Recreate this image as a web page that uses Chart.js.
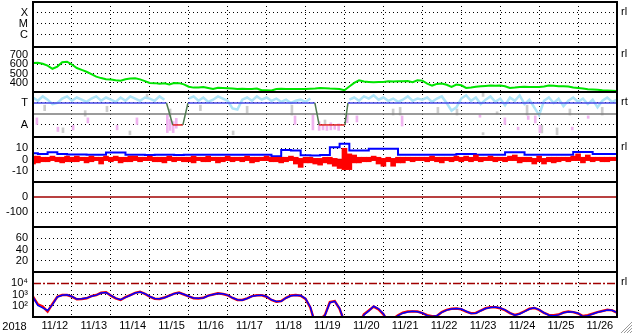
<!DOCTYPE html>
<html><head><meta charset="utf-8">
<script src="https://cdn.jsdelivr.net/npm/chart.js@4"></script>
<style>html,body{margin:0;padding:0;background:#fff;overflow:hidden}canvas{display:block}</style>
</head><body>
<canvas id="c" width="633" height="334"></canvas>
<script>
// ---------------- DATA ----------------
const dayLabels = ['11/12','11/13','11/14','11/15','11/16','11/17','11/18','11/19','11/20','11/21','11/22','11/23','11/24','11/25','11/26'];
const yearLabel = '2018';
const sampleStep = 0.125;      // 3-hour samples (days)
const coarseStep = 0.25;       // 6-hour samples (days)
const labelAt = 0.56;          // day fraction where each date label sits

// panel 1 (X/M/C) category rows
const p1Rows = ['C','M','X'];
// panel 2 green
const green = [
 614,617,605,585,552,575,622,628,
 597,560,540,520,495,468,452,440,
 436,428,424,440,447,450,438,420,
 400,398,392,396,384,400,398,385,
 360,350,352,357,346,336,348,346,
 343,340,336,338,336,336,340,322,
 322,320,336,338,336,334,336,336,
 336,338,340,346,344,340,338,336,
 322,362,400,428,415,411,408,411,
 411,418,416,418,418,420,407,428,
 425,393,372,390,393,380,357,382,
 375,346,352,360,364,368,372,370,
 372,365,346,350,357,360,357,357,
 357,362,372,370,364,364,362,352,
 346,340,332,329,326,321,318,316,
 314];
const p2Ticks = [400,500,600,700];

// panel 3 (T / A)
const p3Rows = ['A', null, 'T'];
const cyan = [
 2.5,2.2,2.6,2.3,1.9,2.0,2.4,2.6,
 2.2,2.5,2.3,2.1,2.4,2.6,2.2,2.5,
 2.3,2.1,2.5,2.2,2.6,2.4,2.2,2.5,
 2.4,2.2,2.6,2.3,null,null,null,null,
 2.4,2.6,2.2,2.5,2.1,2.3,2.6,2.4,
 2.2,1.5,1.4,2.3,2.5,2.2,2.6,2.3,
 2.5,2.2,2.4,2.1,2.3,2.0,2.2,2.3,
 2.1,2.4,null,null,null,null,null,null,
 null,2.3,2.5,2.2,2.6,2.4,2.7,2.3,
 2.5,2.2,2.4,2.1,2.3,2.6,2.2,2.4,
 2.3,2.5,2.1,2.4,2.6,2.0,1.3,1.6,
 2.4,2.7,2.2,2.5,1.9,2.3,2.6,2.1,
 2.4,1.8,2.5,2.2,2.7,1.9,2.3,1.6,
 0.9,2.2,2.5,2.0,2.4,1.7,2.2,2.5,
 2.1,2.4,1.9,2.3,1.6,2.2,2.5,2.1,
 2.3];
const stateT = [0, 3.43, 3.59, 3.85, 3.98, 7.24, 7.35, 8.01, 8.09, 15];
const stateV = [2, 2, 0, 0, 2, 2, 0, 0, 2, 2];
const p3RefLevel = 1;
const pinkT  = [0.10,0.64,1.03,1.41,2.16,2.67,3.45,3.52,3.60,3.68,6.73,7.19,7.35,7.45,7.55,7.65,7.75,7.85,8.07,8.32,9.48,11.48,12.12,12.46,12.72,12.90,13.02,13.85,14.26];
const pinkLo = [0.0,-0.6,-0.45,0.18,-0.45,0.0,-0.7,-0.5,-0.7,-0.3,0.0,-0.45,-0.5,-0.45,-0.5,-0.45,-0.4,-0.5,0.2,0.27,-0.1,0.7,0.0,-0.45,0.5,0.18,-0.7,-0.45,0.6];
const pinkHi = [0.64,-0.2,0.0,0.64,0.0,0.64,0.9,0.5,0.3,0.6,0.82,0.9,0.3,0.0,-0.1,0.2,0.0,0.1,0.9,0.82,0.82,0.9,0.64,-0.2,0.82,0.82,0.0,-0.2,0.82];
const grayT  = [0.30,0.77,1.34,1.90,2.49,2.93,3.52,4.30,5.14,5.50,6.65,7.50,9.25,9.43,10.40,10.89,11.56,11.56,11.92,12.69,13.07,13.46,13.79,14.62];
const grayLo = [1.3,-0.7,0.8,1.2,-0.9,2.5,0.8,1.3,-0.9,1.1,0.9,0.0,0.9,0.9,1.1,0.9,2.6,-0.9,1.0,0.9,-0.73,-0.9,0.9,0.9];
const grayHi = [1.8,-0.27,1.3,1.7,-0.55,2.8,1.45,1.8,-0.55,1.7,1.8,0.45,1.45,1.6,1.6,1.45,3.0,-0.7,1.2,1.8,0.0,-0.27,1.45,1.6];

// panel 4 (+-10)
const p4Ticks = [-10,0,10];
const p4Zero = 0;
const blue4 = [
 5.5,5,6.4,5,
 4.5,4.5,4.3,4.3,
 6.2,6.2,4.3,4.3,
 4,4.3,4.3,4,
 4.3,4.3,4.3,4.3,
 4.3,4.3,4.3,4.3,
 4.3,3,8.5,8,
 3.8,3.5,4,11,
 14,8,8,9.5,
 9.5,9.5,4.3,4.3,
 4.3,4.3,4.3,4.3,
 5,5,4.3,4.3,
 4.3,6.4,6.4,4.3,
 4.3,4.3,4.3,4.3,
 6.7,6.7,5,5,
 5];
// red trace in panel 4: min / max within each 3-hour bin
const red4Hi = [
 3,3,2,2,3,2,2,3,
 2,3,2,2,3,2,2,3,
 2,3,2,2,3,3,2,2,
 3,2,2,2,3,2,2,2,
 2,3,2,2,3,2,2,2,
 3,2,2,2,3,2,2,2,
 3,2,2,2,2,3,2,1,
 2,2,1,1,2,2,1,0,
 10,5,4,2,2,2,3,2,
 1,2,1,2,2,2,2,2,
 2,2,3,2,2,2,2,3,
 2,3,2,4,2,2,3,2,
 2,2,3,4,2,2,2,1,
 3,1,2,2,2,2,2,3,
 5,2,4,2,2,2,2,2,
 2];
const red4Lo = [
 -4,-3,-2,-2,-1,-2,-3,-2,
 -2,-2,-1,-3,-2,-1,-4,-1,
 -2,-1,-3,-2,-2,-1,-2,-1,
 -1,-2,-2,-3,-1,-2,-1,-2,
 -2,-3,-1,-2,-2,-1,-3,-2,
 -1,-2,-1,-2,-1,-3,-2,-1,
 -1,-2,-2,-3,-2,-1,-4,-7,
 -3,-3,-4,-5,-3,-4,-6,-8,
 -9,-9,-3,-3,-2,-2,-1,-4,
 -6,-2,-6,-3,-3,-1,-2,-1,
 -1,-2,-1,-2,-3,-1,-2,-1,
 -2,-1,-2,-1,-2,-1,-1,-2,
 -1,-2,-1,-1,-3,-2,-2,-4,
 -2,-4,-2,-3,-2,-1,-2,-1,
 -1,-3,-1,-2,-1,-2,-2,-1,
 -1];

// panel 5 (0 / -100)
const p5Ticks = [-100,0];
const p5Zero = 0;
// panel 6 (20/40/60)
const p6Ticks = [20,40,60];
// panel 7 (log)
const p7Ticks = [100,1000,10000];
const p7Threshold = 10000;
const logRed = [
 630,126,80,28,141,630,890,890,
 630,363,380,447,708,891,1410,1585,
 794,447,316,562,891,1413,1778,1122,
 631,417,398,525,794,1202,1479,1000,
 661,457,437,501,794,1000,1259,1122,
 851,479,316,316,447,708,851,851,
 631,316,224,251,501,794,891,759,
 398,63,2,5,14,200,251,50,
 3,2,2,2,16,35,79,45,
 16,3,6,13,22,28,28,28,
 20,13,10.5,11,25,40,50,52,
 45,28,20,21,35,56,69,69,
 56,38,20,14,18,30,50,60,
 40,21,14,13,15,23,28,25,
 19,11,13,18,25,32,40,36,
 22];
const logBlue = [
 560,100,60,35,120,600,850,920,
 650,380,400,470,690,870,1350,1500,
 820,470,330,540,860,1350,1700,1180,
 660,430,410,500,760,1150,1420,1050,
 690,470,450,480,760,980,1200,1150,
 880,500,330,300,430,680,820,870,
 660,330,230,240,480,760,870,790,
 420,70,2,4,13,180,240,56,
 3,2,2,2,14,32,85,50,
 18,3,5,12,20,26,30,27,
 21,12,10,12,24,38,48,54,
 47,30,19,20,33,53,66,72,
 58,40,21,13,17,28,48,62,
 42,22,13,12,14,22,27,26,
 20,10,12,17,24,30,38,37,
 23];
const sideTags = [['p1',3,'rl'],['p2',700,'rl'],['p3',2,'rt'],['p4',10,'rl'],['p7',10000,'rl']];

// ---------------- CHART ----------------
const FONT_FAMILY = "'Liberation Sans Narrow','Liberation Sans',Arial,sans-serif";
Chart.defaults.font.family = FONT_FAMILY;
Chart.defaults.font.size = 11;
Chart.defaults.color = '#000';

const series = (vals, step) => vals.map((v, i) => ({x: i * step, y: v}));
const pairs = (xs, ys) => xs.map((x, i) => ({x, y: ys[i]}));
const bars = (xs, lo, hi) => xs.map((x, i) => ({x, y: [lo[i], hi[i]]}));
const binBars = (lo, hi, step) => lo.map((v, i) => ({x: i * step, y: [v, hi[i]]}));
const flat = (v) => [{x: 0, y: v}, {x: dayLabels.length, y: v}];

const DOT = [1, 3];
function panel(min, max, ticks, label, hidden, extra) {
  return Object.assign({
    type: 'linear', position: 'left', stack: 'panels', stackWeight: 1,
    min, max, offset: false,
    afterBuildTicks: s => { s.ticks = ticks.map(v => ({value: v})); },
    afterFit: s => { s.width = 33; s.paddingTop = 0; s.paddingBottom = 0; },
    grid: { drawTicks: false, lineWidth: 1, offset: false,
      color: c => (c.tick && hidden.includes(c.tick.value)) ? 'rgba(0,0,0,0)' : '#000' },
    border: { display: false, dash: DOT },
    ticks: { padding: 5, autoSkip: false, font: {size: 11}, callback: label }
  }, extra || {});
}
const num = v => String(v);
const sup = {2: '\u00b2', 3: '\u00b3', 4: '\u2074'};

// x ticks: a grid tick at every midnight, a label tick inside each day
const xTicks = [];
for (let k = 0; k <= dayLabels.length; k++) {
  xTicks.push({value: k, kind: 'grid'});
  if (k < dayLabels.length) xTicks.push({value: k + labelAt, kind: 'label', text: dayLabels[k]});
}

const lineBase = { type: 'line', pointRadius: 0, pointHoverRadius: 0, tension: 0, borderJoinStyle: 'miter', spanGaps: false, fill: false };

const datasets = [
  // panel 7
  Object.assign({}, lineBase, { yAxisID: 'p7', data: series(logBlue, sampleStep), borderColor: '#0000ff', borderWidth: 1.5, order: 1 }),
  Object.assign({}, lineBase, { yAxisID: 'p7', data: series(logRed, sampleStep), borderColor: '#ff0000', borderWidth: 2.5, order: 2 }),
  Object.assign({}, lineBase, { yAxisID: 'p7', data: flat(p7Threshold), borderColor: '#a00000', borderWidth: 1.5, borderDash: [8,2,2,2], order: 3 }),
  // panel 5
  Object.assign({}, lineBase, { yAxisID: 'p5', data: flat(p5Zero), borderColor: '#a00000', borderWidth: 1.5, order: 4 }),
  // panel 4
  { type: 'bar', yAxisID: 'p4', data: binBars(red4Lo, red4Hi, sampleStep), backgroundColor: '#ff0000', barThickness: 5, grouped: false, borderWidth: 0, order: 5 },
  Object.assign({}, lineBase, { yAxisID: 'p4', data: series(blue4, coarseStep), borderColor: '#0000ff', borderWidth: 2, stepped: 'middle', order: 6 }),
  Object.assign({}, lineBase, { yAxisID: 'p4', data: flat(p4Zero), borderColor: '#cc0000', borderWidth: 1.5, order: 7 }),
  // panel 3
  Object.assign({}, lineBase, { yAxisID: 'p3', data: pairs(stateT, stateV), borderWidth: 1.5, order: 8,
    borderColor: '#4646e6',
    segment: { borderColor: c => {
      const a = c.p0.parsed.y, b = c.p1.parsed.y;
      if (a !== b) return '#4f7a4f';
      return a === 0 ? '#e02020' : '#4646e6';
    } } }),
  Object.assign({}, lineBase, { yAxisID: 'p3', data: flat(p3RefLevel), borderColor: '#7a7a7a', borderWidth: 1.5, order: 9 }),
  { type: 'bar', yAxisID: 'p3', data: bars(pinkT, pinkLo, pinkHi), backgroundColor: '#f0b4f0', barThickness: 2, grouped: false, borderWidth: 0, order: 10 },
  Object.assign({}, lineBase, { yAxisID: 'p3', data: series(cyan, sampleStep), borderColor: '#aee4f8', borderWidth: 2.5, order: 11 }),
  { type: 'bar', yAxisID: 'p3', data: bars(grayT, grayLo, grayHi), backgroundColor: '#cdcdcd', barThickness: 2, grouped: false, borderWidth: 0, order: 12 },
  // panel 2
  Object.assign({}, lineBase, { yAxisID: 'p2', data: series(green, sampleStep), borderColor: '#00e400', borderWidth: 2, order: 13 }),
];

const framePlugin = {
  id: 'frame',
  afterDatasetsDraw(chart) {
    const {ctx, chartArea: a} = chart;
    ctx.save();
    ctx.strokeStyle = '#000';
    ctx.lineWidth = 2;
    ['p1','p2','p3','p4','p5','p6'].forEach(id => {
      const y = chart.scales[id].bottom;
      ctx.beginPath(); ctx.moveTo(a.left, y); ctx.lineTo(a.right, y); ctx.stroke();
    });
    ctx.strokeRect(a.left, a.top, a.right - a.left, a.bottom - a.top);
    ctx.fillStyle = '#000';
    ctx.font = "11px " + FONT_FAMILY;
    ctx.textBaseline = 'middle';
    ctx.textAlign = 'left';
    sideTags.forEach(([id, v, t]) => {
      ctx.fillText(t, a.right + 4, chart.scales[id].getPixelForValue(v) - 1);
    });
    const xs = chart.scales.x;
    ctx.textAlign = 'center';
    ctx.fillText(yearLabel, a.left / 2 - 2, (xs.top + xs.bottom) / 2 + 1);
    // window resize grip
    ctx.lineWidth = 1;
    for (let k = 0; k < 4; k++) {
      ctx.strokeStyle = '#9a9a9a';
      ctx.beginPath(); ctx.moveTo(chart.width - 1, chart.height - 12 + k * 3); ctx.lineTo(chart.width - 12 + k * 3, chart.height - 1); ctx.stroke();
      ctx.strokeStyle = '#ffffff';
      ctx.beginPath(); ctx.moveTo(chart.width - 1, chart.height - 11 + k * 3); ctx.lineTo(chart.width - 11 + k * 3, chart.height - 1); ctx.stroke();
    }
    ctx.restore();
  }
};

new Chart(document.getElementById('c'), {
  type: 'line',
  data: { datasets },
  options: {
    responsive: false, animation: false, devicePixelRatio: 1,
    layout: { padding: { left: 0, right: 16, top: 2, bottom: 0 }, autoPadding: false },
    plugins: { legend: { display: false }, tooltip: { enabled: false } },
    scales: {
      x: {
        type: 'linear', position: 'bottom', min: 0, max: dayLabels.length, offset: false,
        afterBuildTicks: s => { s.ticks = xTicks.map(t => ({value: t.value})); },
        afterFit: s => { s.height = 17; s.paddingLeft = 0; s.paddingRight = 0; },
        grid: { drawTicks: false, lineWidth: 1, offset: false,
          color: c => (c.tick && xTicks[c.index] && xTicks[c.index].kind === 'grid') ? '#000' : 'rgba(0,0,0,0)' },
        border: { display: false, dash: DOT },
        ticks: { autoSkip: false, maxRotation: 0, padding: 2, font: {size: 11},
          callback: (v, i) => xTicks[i].kind === 'label' ? xTicks[i].text : '' }
      },
      p7: panel(9, 110000, p7Ticks, v => '10' + sup[Math.round(Math.log10(v))], [p7Threshold], { type: 'logarithmic' }),
      p6: panel(0, 80, p6Ticks, num, []),
      p5: panel(-200, 100, p5Ticks, num, [p5Zero]),
      p4: panel(-20, 20, p4Ticks, num, []),
      p3: panel(-1.1, 3, [0, 2], v => p3Rows[v], []),
      p2: panel(303, 785, p2Ticks, num, []),
      p1: panel(-0.1, 4, [1, 2, 3], v => p1Rows[v - 1], [])
    }
  },
  plugins: [framePlugin]
});
</script>
</body></html>
